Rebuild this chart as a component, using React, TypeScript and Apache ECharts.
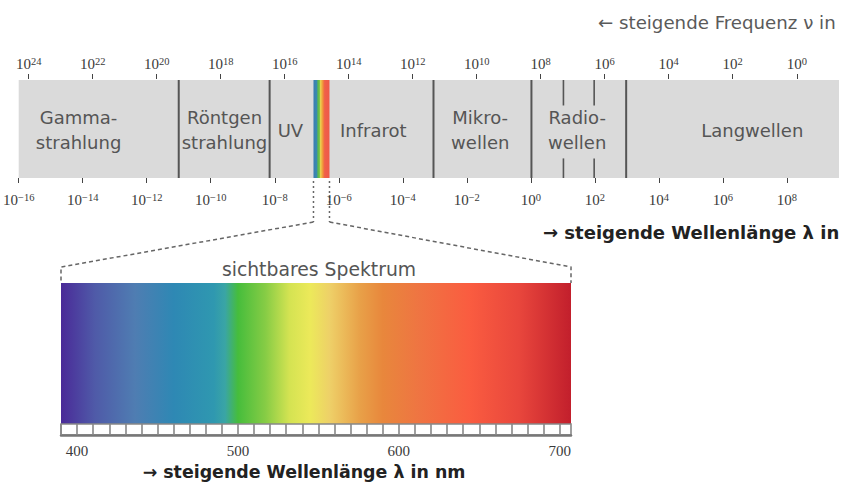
import React, { useEffect, useRef } from 'react';
import * as echarts from 'echarts';

// ---- data ----
const freqExponents = [0, 2, 4, 6, 8, 10, 12, 14, 16, 18, 20, 22, 24];
const waveExponents = [-16, -14, -12, -10, -8, -6, -4, -2, 0, 2, 4, 6, 8];
const waveRange = [-16, 9.63];
const freqRange = [-1.32, 24.31];

const bandNames = ['Gamma-\nstrahlung', 'Röntgen\nstrahlung', 'UV', 'Infrarot', 'Mikro-\nwellen', 'Radio-\nwellen', 'Langwellen'];
const bandLabelPos = [-14.13, -9.57, -7.51, -4.92, -1.58, 1.45, 6.92];
const bandSeparators = [-11.0, -8.16, -3.04, 0.02, 2.98];
const radioSubTicks = [1.02, 1.98];
const visibleBand = [-6.79, -6.29];
const stripStopPos = [0, 0.22, 0.27, 0.37, 0.42, 0.52, 0.6, 0.7, 1];
const stripStopColor = ['#3b7db2', '#3a8cad', '#5cb84a', '#6cbf48', '#e6d452', '#f0b043', '#f08a3a', '#f0604a', '#ee5848'];

const specRange = [390, 707];
const specTicks = [390, 400, 410, 420, 430, 440, 450, 460, 470, 480, 490, 500, 510, 520, 530, 540, 550, 560, 570, 580, 590, 600, 610, 620, 630, 640, 650, 660, 670, 680, 690, 700];
const specLabels = [400, 500, 600, 700];
const specStopNm = [390, 411, 436, 460, 485, 492, 500, 517, 532, 545, 557, 576, 590, 613, 644, 675, 707];
const specStopColor = ['#4a2a98', '#4f5aa8', '#4f7db2', '#2e88b4', '#2f98b0', '#3aa5a5', '#46bd3c', '#86cc45', '#d4e352', '#ece95a', '#eed068', '#e8a048', '#e8873c', '#ef7442', '#fa5c40', '#e8463c', '#c21f2c'];

const SERIF = '"Liberation Serif", "DejaVu Serif", serif';
const SANS = '"DejaVu Sans", Verdana, sans-serif';

function spectrumGradient() {
  const span = specRange[1] - specRange[0];
  return {
    type: 'linear', x: 0, y: 0, x2: 1, y2: 0,
    colorStops: specStopNm.map((nm, i) => ({ offset: (nm - specRange[0]) / span, color: specStopColor[i] })),
  };
}
function stripGradient() {
  return {
    type: 'linear', x: 0, y: 0, x2: 1, y2: 0,
    colorStops: stripStopPos.map((o, i) => ({ offset: o, color: stripStopColor[i] })),
  };
}

const sup = (v: number) => `{b|10}{s|${v < 0 ? '\u2212' + Math.abs(v) : v}}`;
const richLabel = {
  b: { fontFamily: SERIF, fontSize: 15, color: '#3a3a3a', lineHeight: 16 },
  s: { fontFamily: SERIF, fontSize: 10.5, color: '#3a3a3a', lineHeight: 9, verticalAlign: 'top' },
};

export default function App() {
  const ref = useRef<HTMLDivElement>(null);
  useEffect(() => {
    if (!ref.current) return;
    const chart = echarts.init(ref.current, undefined, { renderer: 'svg' });
    const option: any = {
      animation: false,
      backgroundColor: '#ffffff',
      grid: [
        { left: 18, right: 1, top: 80, height: 98 },
        { left: 61, width: 510, top: 283, height: 152 },
      ],
      xAxis: [
        {
          gridIndex: 0, type: 'value', position: 'bottom', min: waveRange[0], max: waveRange[1], offset: 3,
          axisLine: { show: false }, splitLine: { show: false },
          axisTick: { show: true, length: 5, customValues: waveExponents, lineStyle: { color: '#444', width: 1 } },
          axisLabel: { customValues: waveExponents, margin: 11, formatter: sup, rich: richLabel },
        },
        {
          gridIndex: 0, type: 'value', position: 'top', inverse: true, min: freqRange[0], max: freqRange[1], offset: 1,
          axisLine: { show: false }, splitLine: { show: false },
          axisTick: { show: true, length: 5, customValues: freqExponents, lineStyle: { color: '#444', width: 1 } },
          axisLabel: { customValues: freqExponents, margin: 7, formatter: sup, rich: richLabel },
        },
        {
          gridIndex: 1, type: 'value', position: 'bottom', min: specRange[0], max: specRange[1], z: 5,
          axisLine: { show: true, lineStyle: { color: '#777', width: 2.5 } }, splitLine: { show: false },
          axisTick: { show: true, inside: true, length: 11, customValues: specTicks, lineStyle: { color: '#888', width: 1.6 } },
          axisLabel: { customValues: specLabels, margin: 8, fontFamily: SERIF, fontSize: 15, color: '#3a3a3a' },
        },
      ],
      yAxis: [
        { gridIndex: 0, type: 'value', min: 0, max: 1, show: false },
        { gridIndex: 1, type: 'value', min: 0, max: 1, show: false },
      ],
      series: [
        {
          type: 'custom', xAxisIndex: 0, yAxisIndex: 0, silent: true, z: 1,
          data: [[waveRange[0], waveRange[1]]],
          renderItem: (params: any, api: any) => {
            const cs = params.coordSys;
            const x0 = api.coord([api.value(0), 0])[0];
            const x1 = api.coord([api.value(1), 0])[0];
            return { type: 'rect', shape: { x: x0, y: cs.y, width: x1 - x0, height: cs.height }, style: { fill: '#dadada' } };
          },
        },
        {
          type: 'custom', xAxisIndex: 0, yAxisIndex: 0, silent: true, z: 2,
          data: bandSeparators.map((v) => [v, 0]),
          renderItem: (params: any, api: any) => {
            const cs = params.coordSys;
            const x = api.coord([api.value(0), 0])[0];
            return { type: 'line', shape: { x1: x, y1: cs.y, x2: x, y2: cs.y + cs.height }, style: { stroke: '#555', lineWidth: 2 } };
          },
        },
        {
          type: 'custom', xAxisIndex: 0, yAxisIndex: 0, silent: true, z: 2,
          data: radioSubTicks.map((v) => [v, 0]),
          renderItem: (params: any, api: any) => {
            const cs = params.coordSys;
            const x = api.coord([api.value(0), 0])[0];
            return {
              type: 'group',
              children: [
                { type: 'line', shape: { x1: x, y1: cs.y, x2: x, y2: cs.y + cs.height * 0.26 }, style: { stroke: '#555', lineWidth: 1.6 } },
                { type: 'line', shape: { x1: x, y1: cs.y + cs.height * 0.8, x2: x, y2: cs.y + cs.height }, style: { stroke: '#555', lineWidth: 1.6 } },
              ],
            };
          },
        },
        {
          type: 'custom', xAxisIndex: 0, yAxisIndex: 0, silent: true, z: 3,
          data: [[visibleBand[0], visibleBand[1]]],
          renderItem: (params: any, api: any) => {
            const cs = params.coordSys;
            const x0 = api.coord([api.value(0), 0])[0];
            const x1 = api.coord([api.value(1), 0])[0];
            return { type: 'rect', shape: { x: x0, y: cs.y, width: x1 - x0, height: cs.height }, style: { fill: stripGradient() } };
          },
        },
        {
          type: 'custom', xAxisIndex: 0, yAxisIndex: 0, silent: true, z: 4,
          data: bandLabelPos.map((v) => [v, 0.5]),
          renderItem: (params: any, api: any) => {
            const p = api.coord([api.value(0), api.value(1)]);
            return {
              type: 'text', x: p[0], y: p[1] + 1,
              style: {
                text: bandNames[params.dataIndex], fill: '#555', fontFamily: SANS, fontSize: 18,
                lineHeight: 25, align: 'center', verticalAlign: 'middle',
              },
            };
          },
        },
        {
          type: 'custom', xAxisIndex: 2, yAxisIndex: 1, silent: true, z: 1,
          data: [[specRange[0], specRange[1]]],
          renderItem: (params: any, api: any) => {
            const cs = params.coordSys;
            const x0 = api.coord([api.value(0), 0])[0];
            const x1 = api.coord([api.value(1), 0])[0];
            const rulerH = 11;
            return {
              type: 'group',
              children: [
                { type: 'rect', shape: { x: x0, y: cs.y, width: x1 - x0, height: cs.height - rulerH }, style: { fill: spectrumGradient() } },
                { type: 'rect', shape: { x: x0, y: cs.y + cs.height - rulerH, width: x1 - x0, height: rulerH }, style: { fill: '#ffffff', stroke: '#888', lineWidth: 1.6 } },
              ],
            };
          },
        },
      ],
      graphic: [
        { type: 'text', x: 598, y: 22, style: { text: '\u2190 steigende Frequenz \u03bd in', fill: '#5a5a5a', fontFamily: SANS, fontSize: 18.2, verticalAlign: 'middle' } },
        { type: 'text', x: 543, y: 232, style: { text: '\u2192 steigende Wellenl\u00e4nge \u03bb in', fill: '#222', fontFamily: SANS, fontSize: 18, fontWeight: 'bold', verticalAlign: 'middle' } },
        { type: 'text', x: 319, y: 269, style: { text: 'sichtbares Spektrum', fill: '#555', fontFamily: SANS, fontSize: 18.8, align: 'center', verticalAlign: 'middle' } },
        { type: 'text', x: 304, y: 472, style: { text: '\u2192 steigende Wellenl\u00e4nge \u03bb in nm', fill: '#222', fontFamily: SANS, fontSize: 17.4, fontWeight: 'bold', align: 'center', verticalAlign: 'middle' } },
      ],
    };
    chart.setOption(option);

    // connectors from the visible strip to the enlarged spectrum
    const xL = chart.convertToPixel({ xAxisIndex: 0 } as any, visibleBand[0]) as any as number;
    const xR = chart.convertToPixel({ xAxisIndex: 0 } as any, visibleBand[1]) as any as number;
    const yB = chart.convertToPixel({ yAxisIndex: 0 } as any, 0) as any as number;
    const sL = chart.convertToPixel({ xAxisIndex: 2 } as any, specRange[0]) as any as number;
    const sR = chart.convertToPixel({ xAxisIndex: 2 } as any, specRange[1]) as any as number;
    const sT = chart.convertToPixel({ yAxisIndex: 1 } as any, 1) as any as number;
    const yJ = yB + 44;
    const yC = sT - 16;
    const dotted = { stroke: '#666', lineWidth: 1.5, lineDash: [2, 3], fill: null };
    const dashed = { stroke: '#666', lineWidth: 1.5, lineDash: [4, 3], fill: null };
    chart.setOption({
      graphic: [
        ...option.graphic,
        { type: 'polyline', shape: { points: [[xL, yB + 3], [xL, yJ]] }, style: dotted },
        { type: 'polyline', shape: { points: [[xR, yB + 3], [xR, yJ]] }, style: dotted },
        { type: 'polyline', shape: { points: [[xL, yJ], [sL, yC], [sL, sT]] }, style: dashed },
        { type: 'polyline', shape: { points: [[xR, yJ], [sR, yC], [sR, sT]] }, style: dashed },
      ],
    }, { replaceMerge: ['graphic'] } as any);

    return () => chart.dispose();
  }, []);
  return (
    <div style={{ position: 'fixed', left: 0, top: 0, width: 858, height: 485, background: '#fff' }}>
      <div ref={ref} style={{ position: 'absolute', left: 0, top: 0, width: 840, height: 485 }} />
    </div>
  );
}
